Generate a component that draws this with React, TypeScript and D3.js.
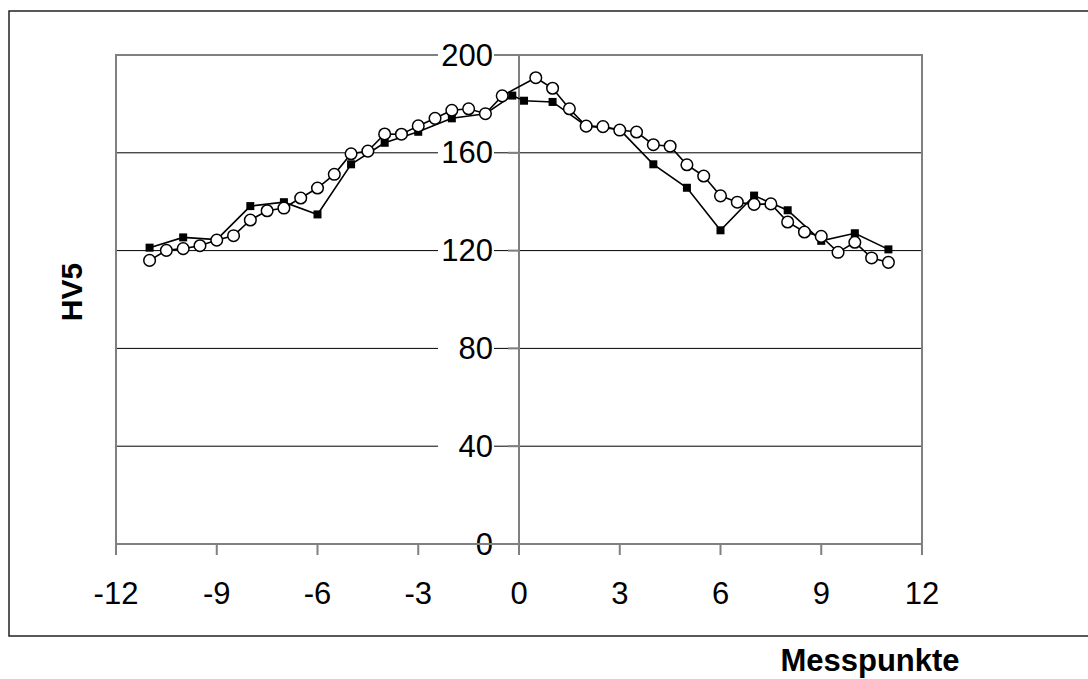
import * as d3 from "d3";

const WIDTH = 1088;
const HEIGHT = 679;
const PLOT = { left: 116, right: 922, top: 55, bottom: 544 };

// series 1: filled squares
const squareX = [-11, -10, -9, -8, -7, -6, -5, -4, -3, -2, -1, -0.2, 0.15, 1, 2, 3, 4, 5, 6, 7, 8, 9, 10, 11];
const squareY = [121.2, 125.4, 124.5, 138.2, 139.8, 134.8, 155.3, 164.1, 168.6, 174.1, 176, 183.4, 181.3, 180.8, 171, 169.5, 155.3, 145.7, 128.3, 142.5, 136.5, 124, 127.1, 120.5];

// series 2: open circles
const circleX = [
  -11, -10.5, -10, -9.5, -9, -8.5, -8, -7.5, -7, -6.5, -6, -5.5, -5, -4.5, -4, -3.5, -3, -2.5, -2, -1.5, -1, -0.5,
  0.5, 1, 1.5, 2, 2.5, 3, 3.5, 4, 4.5, 5, 5.5, 6, 6.5, 7, 7.5, 8, 8.5, 9, 9.5, 10, 10.5, 11,
];
const circleY = [
  116.0, 120.1, 120.8, 122.0, 124.3, 126.1, 132.5, 136.3, 137.4, 141.5, 145.6, 151.2, 159.6, 160.7, 167.7, 167.6,
  171.0, 174.1, 177.4, 178.0, 176.0, 183.3, 190.7, 186.4, 178.0, 170.9, 170.7, 169.3, 168.5, 163.3, 162.7, 155.1,
  150.5, 142.4, 139.8, 138.9, 139.1, 131.7, 127.6, 125.8, 119.3, 123.4, 117.0, 115.2,
];

const xTicks = [-12, -9, -6, -3, 0, 3, 6, 9, 12];
const yTicks = [0, 40, 80, 120, 160, 200];

const X_TITLE = "Messpunkte";
const Y_TITLE = "HV5";

export default function App() {
  const x = d3.scaleLinear().domain([-12, 12]).range([PLOT.left, PLOT.right]);
  const y = d3.scaleLinear().domain([0, 200]).range([PLOT.bottom, PLOT.top]);

  const path = d3
    .line<[number, number]>()
    .x((d) => x(d[0]))
    .y((d) => y(d[1]));
  const squarePath = path(squareX.map((v, i) => [v, squareY[i]]));
  const circlePath = path(circleX.map((v, i) => [v, circleY[i]]));

  const x0 = x(0);
  const font = "Arial, 'Liberation Sans', sans-serif";

  return (
    <svg
      width={WIDTH}
      height={HEIGHT}
      style={{ position: "absolute", left: 0, top: 0, background: "#fff" }}
    >
      {/* outer frame */}
      <rect x={9} y={11} width={1100} height={625} fill="none" stroke="#222" strokeWidth={1.5} />

      {/* gridlines */}
      {yTicks
        .filter((t) => t > 0 && t < 200)
        .map((t) => (
          <line key={t} x1={PLOT.left} x2={PLOT.right} y1={y(t)} y2={y(t)} stroke="#000" strokeWidth={1} />
        ))}

      {/* plot border */}
      <rect
        x={PLOT.left}
        y={PLOT.top}
        width={PLOT.right - PLOT.left}
        height={PLOT.bottom - PLOT.top}
        fill="none"
        stroke="#808080"
        strokeWidth={2}
      />

      {/* y axis at x = 0 */}
      <line x1={x0} x2={x0} y1={PLOT.top} y2={PLOT.bottom} stroke="#808080" strokeWidth={2} />
      {yTicks.map((t) => (
        <g key={t}>
          <line x1={x0 - 11} x2={x0} y1={y(t)} y2={y(t)} stroke="#808080" strokeWidth={2} />
          <rect x={x0 - 81} y={y(t) - 14} width={56} height={28} fill="#fff" />
          <text
            x={x0 - 26}
            y={y(t)}
            textAnchor="end"
            dominantBaseline="central"
            fontFamily={font}
            fontSize={31}
            fill="#000"
          >
            {t}
          </text>
        </g>
      ))}

      {/* x axis */}
      <line x1={PLOT.left} x2={PLOT.right} y1={PLOT.bottom} y2={PLOT.bottom} stroke="#808080" strokeWidth={2} />
      {xTicks.map((t) => (
        <g key={t}>
          <line x1={x(t)} x2={x(t)} y1={PLOT.bottom} y2={PLOT.bottom + 11} stroke="#808080" strokeWidth={2} />
          <text x={x(t)} y={604} textAnchor="middle" fontFamily={font} fontSize={31} fill="#000">
            {t}
          </text>
        </g>
      ))}

      {/* squares series */}
      <path d={squarePath ?? ""} fill="none" stroke="#000" strokeWidth={1.6} />
      {squareX.map((v, i) => (
        <rect key={i} x={x(v) - 4} y={y(squareY[i]) - 4} width={8} height={8} fill="#000" />
      ))}

      {/* circles series */}
      <path d={circlePath ?? ""} fill="none" stroke="#000" strokeWidth={1.6} />
      {circleX.map((v, i) => (
        <circle key={i} cx={x(v)} cy={y(circleY[i])} r={5.8} fill="#fff" stroke="#000" strokeWidth={1.5} />
      ))}

      {/* titles */}
      <text
        transform={`translate(82,292) rotate(-90)`}
        textAnchor="middle"
        fontFamily={font}
        fontWeight="bold"
        fontSize={30}
        fill="#000"
      >
        {Y_TITLE}
      </text>
      <text x={870} y={671} textAnchor="middle" fontFamily={font} fontWeight="bold" fontSize={31} fill="#000">
        {X_TITLE}
      </text>
    </svg>
  );
}
